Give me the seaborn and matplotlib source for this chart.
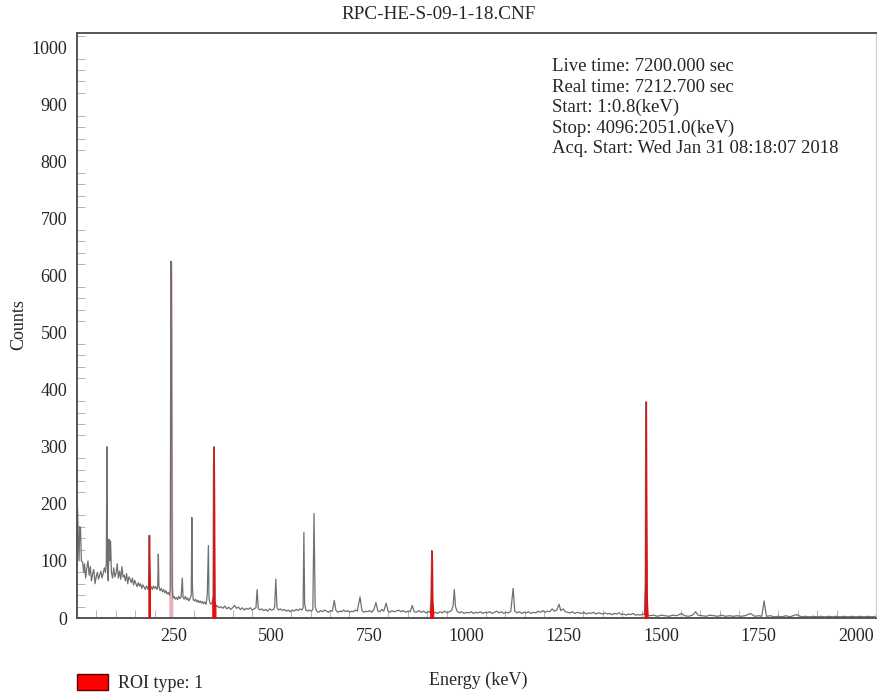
import matplotlib
matplotlib.use("Agg")
import matplotlib.pyplot as plt
from matplotlib.patches import Patch
from matplotlib.ticker import MultipleLocator
import seaborn as sns
import numpy as np

# spectrum: (energy keV, counts)
spectrum = [
    (0.8, 120), (2, 195), (4, 150), (6, 100), (8, 160), (10, 155), (12, 100), (15, 98),
    (18, 80), (20, 95), (23, 70), (26, 88), (29, 100), (32, 75), (35, 90), (38, 65),
    (41, 78), (44, 85), (47, 60), (50, 72), (53, 80), (56, 68), (59, 75), (62, 82),
    (65, 70), (68, 78), (71, 88), (74, 80), (76, 95), (77.5, 300), (79, 90), (81, 65),
    (83, 138), (85, 100), (87, 135), (89, 80), (92, 70), (95, 88), (98, 72), (101, 78),
    (104, 95), (107, 70), (110, 82), (113, 68), (116, 90), (119, 72), (122, 75), (125, 65),
    (128, 78), (131, 60), (134, 72), (137, 68), (140, 62), (143, 70), (146, 58), (149, 66),
    (152, 60), (155, 55), (158, 62), (161, 56), (164, 60), (167, 52), (170, 58), (173, 54),
    (176, 50), (179, 56), (182, 52), (184, 50), (185, 90), (186, 145), (187, 90), (188, 52),
    (191, 55), (194, 50), (197, 56), (200, 52), (203, 55), (206, 50), (208, 55), (209.5, 112),
    (211, 55), (214, 48), (217, 52), (220, 46), (223, 50), (226, 44), (229, 48), (232, 42),
    (235, 45), (238, 40), (240, 48), (241, 400), (242, 625), (243, 590), (244, 300), (245, 60),
    (247, 35), (250, 38), (253, 33), (256, 36), (259, 32), (262, 38), (265, 34), (268, 37),
    (271, 70), (273, 36), (276, 33), (279, 38), (282, 32), (285, 35), (288, 30), (291, 34),
    (294, 40), (295.5, 176), (297, 55), (299, 32), (302, 30), (305, 33), (308, 28), (311, 31),
    (314, 27), (317, 30), (320, 26), (323, 29), (326, 25), (329, 28), (332, 24), (335, 40),
    (338, 127), (339.5, 35), (342, 26), (345, 24), (348, 28), (350, 40), (351, 265), (352, 300),
    (353, 200), (354, 30), (356, 20), (360, 22), (365, 18), (370, 20), (375, 17), (380, 21),
    (385, 16), (390, 19), (395, 15), (400, 18), (405, 22), (410, 17), (415, 19), (420, 15),
    (425, 18), (430, 14), (435, 17), (440, 15), (445, 18), (450, 14), (455, 16), (460, 18),
    (463, 50), (466, 17), (470, 14), (475, 16), (480, 13), (485, 15), (490, 12), (495, 16),
    (500, 14), (505, 15), (508, 20), (511, 68), (514, 18), (518, 14), (523, 16), (528, 13),
    (533, 15), (538, 12), (543, 14), (548, 11), (553, 14), (558, 12), (563, 15), (568, 13),
    (573, 16), (578, 14), (581, 18), (583, 150), (585, 25), (588, 14), (592, 12), (597, 14),
    (602, 12), (606, 15), (609, 183), (612, 20), (616, 12), (621, 10), (626, 13), (631, 11),
    (636, 14), (641, 12), (646, 10), (651, 13), (656, 12), (661, 31), (665, 14), (670, 10),
    (675, 12), (680, 11), (685, 14), (690, 11), (695, 13), (700, 10), (705, 12), (710, 11),
    (715, 14), (720, 12), (727, 37), (732, 13), (737, 10), (742, 12), (747, 11), (752, 13),
    (757, 10), (762, 14), (768, 27), (773, 12), (778, 11), (783, 15), (788, 12), (794, 26),
    (799, 12), (804, 10), (809, 13), (814, 11), (820, 12), (826, 14), (832, 11), (838, 13),
    (844, 10), (850, 12), (856, 11), (861, 22), (866, 11), (872, 10), (878, 13), (884, 10),
    (890, 12), (896, 9), (902, 11), (907, 10), (909, 30), (911, 118), (912, 100), (913, 30),
    (915, 8), (920, 10), (926, 8), (932, 11), (938, 9), (944, 12), (950, 9), (956, 11),
    (962, 13), (966, 22), (969, 50), (972, 20), (976, 12), (982, 9), (988, 11), (994, 8),
    (1000, 10), (1006, 9), (1012, 11), (1018, 8), (1024, 10), (1030, 9), (1036, 11), (1042, 8),
    (1048, 10), (1054, 9), (1060, 11), (1066, 8), (1072, 10), (1078, 12), (1084, 9), (1090, 11),
    (1096, 8), (1102, 10), (1108, 9), (1114, 12), (1120, 52), (1124, 12), (1130, 9), (1136, 11),
    (1142, 8), (1148, 10), (1154, 9), (1160, 11), (1166, 8), (1172, 10), (1178, 9), (1184, 12),
    (1190, 10), (1196, 13), (1202, 10), (1208, 12), (1214, 11), (1220, 16), (1226, 12), (1232, 14),
    (1238, 24), (1242, 13), (1248, 16), (1254, 11), (1260, 10), (1266, 9), (1272, 11), (1278, 8),
    (1284, 10), (1290, 9), (1296, 8), (1302, 10), (1308, 7), (1314, 9), (1320, 8), (1326, 10),
    (1332, 7), (1338, 9), (1344, 8), (1350, 7), (1356, 9), (1362, 7), (1368, 8), (1374, 6),
    (1380, 8), (1386, 7), (1392, 9), (1398, 6), (1404, 7), (1410, 5), (1416, 7), (1422, 6),
    (1428, 8), (1434, 5), (1440, 6), (1446, 5), (1452, 7), (1457, 6), (1459, 60), (1460, 328),
    (1461, 379), (1462, 200), (1463, 40), (1465, 5), (1470, 4), (1480, 5), (1490, 3), (1500, 5),
    (1510, 4), (1520, 3), (1530, 5), (1540, 4), (1552, 8), (1560, 4), (1570, 3), (1580, 5),
    (1588, 11), (1595, 5), (1605, 4), (1615, 3), (1625, 5), (1635, 4), (1645, 3), (1655, 5),
    (1665, 3), (1675, 4), (1685, 3), (1695, 4), (1705, 3), (1715, 4), (1729, 8), (1740, 3),
    (1750, 4), (1758, 3), (1764, 30), (1770, 3), (1780, 4), (1790, 2), (1800, 3), (1810, 2),
    (1820, 4), (1830, 2), (1847, 6), (1860, 2), (1870, 3), (1880, 2), (1890, 3), (1900, 2),
    (1910, 3), (1920, 2), (1930, 3), (1940, 2), (1950, 3), (1960, 2), (1970, 3), (1980, 2),
    (1990, 3), (2000, 2), (2010, 3), (2020, 2), (2030, 3), (2040, 2), (2051, 3),
]
energy = np.array([p[0] for p in spectrum])
counts = np.array([p[1] for p in spectrum])

# regions of interest (keV)
roi_red = [(183, 189), (348, 356), (907, 915), (1456, 1465)]
roi_pink = [(238, 246)]

info_lines = [
    "Live time: 7200.000 sec",
    "Real time: 7212.700 sec",
    "Start: 1:0.8(keV)",
    "Stop: 4096:2051.0(keV)",
    "Acq. Start: Wed Jan 31 08:18:07 2018",
]

sns.set_style("white")
plt.rcParams['font.family'] = ['Liberation Serif', 'DejaVu Serif']

fig = plt.figure(figsize=(8.77, 6.94), dpi=100)
ax = fig.add_axes([0.0878, 0.1095, 0.911, 0.843])

for lo, hi in roi_pink:
    m = (energy >= lo) & (energy <= hi)
    ax.fill_between(energy[m], 0, counts[m], color='#e8b0b8', lw=1.0, zorder=1)
for lo, hi in roi_red:
    m = (energy >= lo) & (energy <= hi)
    ax.fill_between(energy[m], 0, counts[m], color='#e01010', lw=0.8, zorder=3)

sns.lineplot(x=energy, y=counts, ax=ax, color='#707070', linewidth=0.9,
             estimator=None, sort=True, zorder=2)

ax.set_xlim(0.8, 2051)
ax.set_ylim(0, 1025)
ax.xaxis.set_major_locator(MultipleLocator(250))
ax.xaxis.set_minor_locator(MultipleLocator(50))
ax.yaxis.set_major_locator(MultipleLocator(100))
ax.yaxis.set_minor_locator(MultipleLocator(20))
ax.set_xticks([250, 500, 750, 1000, 1250, 1500, 1750, 2000])
ax.tick_params(which='major', direction='out', length=4, color='#999999',
               labelsize=13, pad=3)
ax.tick_params(which='minor', direction='in', length=6, color='#aaaaaa')
ax.tick_params(axis='x', which='minor', bottom=True)
ax.tick_params(axis='y', which='minor', left=True)

for side in ['top', 'left', 'bottom']:
    ax.spines[side].set_color('#555555')
    ax.spines[side].set_linewidth(1.4)
ax.spines['right'].set_color('#d0d0d0')
ax.spines['right'].set_linewidth(1.0)

ax.set_xlabel("")
ax.set_ylabel("")
fig.text(0.5, 0.979, "RPC-HE-S-09-1-18.CNF", ha='center', va='center', fontsize=13.8)
fig.text(0.021, 0.532, "Counts", rotation=90, ha='center', va='center', fontsize=13)
fig.text(0.545, 0.019, "Energy (keV)", ha='center', va='center', fontsize=13)

ax.text(0.594, 0.957, "\n".join(info_lines), transform=ax.transAxes,
        ha='left', va='top', fontsize=13.5, linespacing=1.26)

handle = Patch(facecolor='#ff0000', edgecolor='#600000', linewidth=1.0)
fig.legend([handle], ["ROI type: 1"], loc='lower left', bbox_to_anchor=(0.069, -0.021),
           frameon=False, fontsize=13, handlelength=1.72, handleheight=0.95,
           handletextpad=0.55)

fig.savefig("out.png", dpi=100)
